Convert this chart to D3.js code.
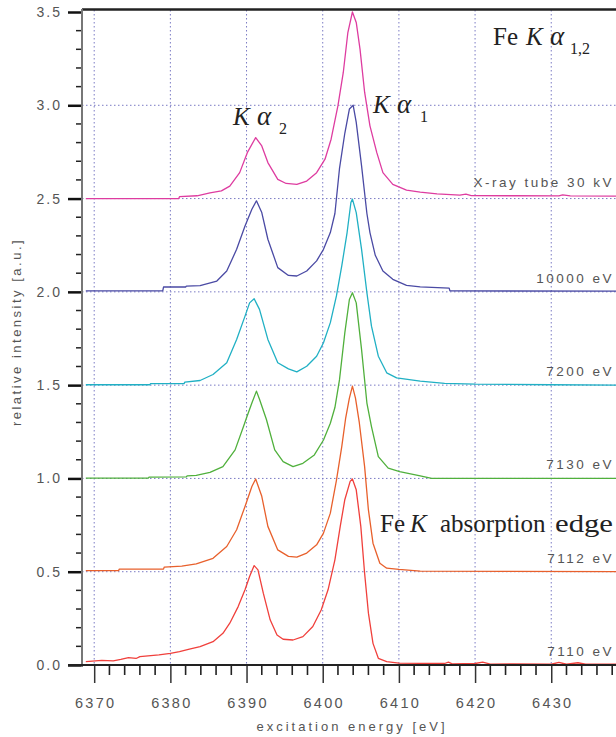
<!DOCTYPE html>
<html><head><meta charset="utf-8">
<script src="https://cdn.jsdelivr.net/npm/d3@7"></script>
<style>
body{margin:0;background:#fff;}
svg{display:block;}
.tick-label{font-family:"Liberation Sans",Arial,sans-serif;fill:#555;}
.serif{font-family:"Liberation Serif","Times New Roman",serif;fill:#222;}
</style></head>
<body>
<svg id="chart" width="616" height="737"></svg>
<script>
// ---------- data ----------
const xTickValues = [6370, 6380, 6390, 6400, 6410, 6420, 6430];
const yTickValues = [0.0, 0.5, 1.0, 1.5, 2.0, 2.5, 3.0, 3.5];
const seriesLabels = ["7110 eV", "7112 eV", "7130 eV", "7200 eV", "10000 eV", "X-ray tube 30 kV"];
const seriesOffsets = [0.0, 0.5, 1.0, 1.5, 2.0, 2.5];

const spec7110 = [[6368.9,0.018],[6371,0.025],[6372.5,0.022],[6373.5,0.03],[6374.5,0.04],[6375.5,0.035],[6376,0.045],[6378.5,0.054],[6380,0.062],[6381.2,0.072],[6382.5,0.085],[6383.9,0.098],[6385.6,0.125],[6386.9,0.17],[6387.8,0.224],[6388.9,0.313],[6389.8,0.403],[6390.4,0.474],[6391.0,0.533],[6391.5,0.51],[6392.2,0.385],[6393.1,0.242],[6394.0,0.161],[6394.8,0.138],[6396.1,0.134],[6397.4,0.152],[6398.7,0.206],[6399.8,0.295],[6400.7,0.403],[6401.6,0.564],[6402.3,0.743],[6402.9,0.886],[6403.6,0.984],[6403.9,0.997],[6404.4,0.939],[6405.0,0.743],[6405.5,0.492],[6406.0,0.278],[6406.6,0.116],[6407.3,0.036],[6408.4,0.018],[6410,0.01],[6412.8,0.009],[6416,0.008],[6416.5,0.015],[6417,0.006],[6420,0.008],[6421,0.015],[6422,0.005],[6425,0.006],[6430,0.004],[6431,0.014],[6432,0.004],[6433.5,0.012],[6434.5,0.004],[6438.5,0.004]];
const spec7112 = [[6368.9,0.506],[6373.2,0.506],[6373.3,0.514],[6379.1,0.514],[6379.2,0.525],[6381.5,0.53],[6383.4,0.542],[6385.6,0.572],[6387.4,0.635],[6388.7,0.725],[6389.8,0.85],[6390.7,0.957],[6391.2,0.997],[6392.0,0.904],[6392.8,0.743],[6394.1,0.617],[6395.5,0.582],[6396.6,0.578],[6397.9,0.6],[6399.2,0.644],[6400.1,0.707],[6401.0,0.814],[6401.8,0.99],[6402.5,1.17],[6403.0,1.32],[6403.5,1.43],[6403.9,1.495],[6404.3,1.43],[6404.8,1.3],[6405.5,1.063],[6406.0,0.831],[6406.6,0.653],[6407.5,0.545],[6408.4,0.519],[6410,0.512],[6412.8,0.503],[6438.5,0.5]];
const spec7130 = [[6368.9,1.002],[6377.1,1.002],[6377.2,1.007],[6382.1,1.008],[6382.2,1.014],[6383.4,1.016],[6385.2,1.032],[6386.9,1.063],[6388.5,1.153],[6389.6,1.278],[6390.0,1.325],[6390.7,1.404],[6391.3,1.468],[6391.7,1.424],[6392.6,1.317],[6393.7,1.153],[6394.8,1.09],[6396.1,1.063],[6397.4,1.081],[6398.9,1.126],[6400.1,1.206],[6401.0,1.296],[6401.6,1.38],[6402.2,1.528],[6402.9,1.78],[6403.5,1.959],[6403.9,1.995],[6404.4,1.941],[6405.1,1.69],[6405.8,1.404],[6406.4,1.278],[6407.3,1.117],[6408.6,1.055],[6410.1,1.037],[6412.8,1.014],[6414.3,1.0],[6438.5,1.0]];
const spec7200 = [[6368.9,1.502],[6377.3,1.502],[6377.4,1.508],[6381.8,1.508],[6381.9,1.516],[6383.9,1.525],[6385.6,1.557],[6387.4,1.62],[6388.7,1.745],[6389.8,1.87],[6390.4,1.941],[6391.0,1.963],[6391.7,1.906],[6392.8,1.745],[6394.1,1.62],[6395.5,1.587],[6396.6,1.571],[6397.9,1.601],[6399.2,1.655],[6400.1,1.727],[6401.0,1.835],[6401.8,1.978],[6402.5,2.139],[6403.2,2.318],[6403.7,2.479],[6403.9,2.497],[6404.4,2.425],[6405.1,2.228],[6405.8,1.995],[6406.4,1.816],[6407.3,1.655],[6408.4,1.566],[6409.7,1.539],[6412.8,1.521],[6416,1.51],[6420,1.505],[6430,1.502],[6438.5,1.5]];
const spec10000 = [[6368.9,2.005],[6379,2.005],[6379.1,2.026],[6382,2.026],[6382.1,2.031],[6383.9,2.033],[6386.1,2.058],[6387.4,2.112],[6388.7,2.228],[6389.8,2.353],[6390.7,2.443],[6391.3,2.488],[6392.0,2.425],[6392.8,2.282],[6394.1,2.13],[6395.5,2.088],[6396.6,2.085],[6397.9,2.112],[6399.2,2.166],[6400.1,2.228],[6401.0,2.318],[6401.6,2.42],[6402.2,2.66],[6402.9,2.85],[6403.5,2.98],[6404.0,3.0],[6404.4,2.908],[6405.1,2.675],[6405.8,2.42],[6406.2,2.318],[6406.9,2.196],[6407.9,2.112],[6409.2,2.067],[6411,2.035],[6412.8,2.027],[6416.6,2.02],[6416.7,2.005],[6438.5,2.004]];
const specTube = [[6368.9,2.5],[6381.1,2.5],[6381.2,2.51],[6383.5,2.515],[6385.2,2.53],[6386.7,2.541],[6387.8,2.567],[6389.1,2.639],[6390.1,2.746],[6391.2,2.827],[6392.0,2.782],[6392.8,2.693],[6394.1,2.603],[6395.2,2.581],[6396.6,2.576],[6397.9,2.594],[6399.2,2.639],[6400.3,2.711],[6401.1,2.818],[6402.0,2.998],[6402.7,3.176],[6403.3,3.39],[6403.9,3.5],[6404.4,3.444],[6404.9,3.3],[6405.5,3.07],[6406.2,2.89],[6407.1,2.746],[6407.9,2.639],[6409.2,2.576],[6411.0,2.545],[6412.8,2.535],[6415,2.525],[6418,2.518],[6418.8,2.524],[6419.5,2.516],[6425,2.515],[6431,2.514],[6431.5,2.52],[6432.5,2.514],[6438.5,2.513]];

const seriesData = [spec7110, spec7112, spec7130, spec7200, spec10000, specTube];
const seriesColors = ["#f0403c", "#e8602c", "#50b03c", "#20b0c4", "#4a4aa4", "#de3ca0"];

// ---------- layout ----------
const svg = d3.select("#chart");
const W = 616, H = 737;
const mLeft = 82, mRight = 616, mTop = 12, mBottom = 665;
const x = d3.scaleLinear().domain([6368.4, 6438.5]).range([mLeft, mRight]);
const y = d3.scaleLinear().domain([0, 3.5]).range([mBottom, mTop]);

svg.append("rect").attr("width", W).attr("height", H).attr("fill", "#fff");

// grid
const grid = svg.append("g").attr("stroke", "#7a7ac4").attr("stroke-width", 1).attr("stroke-dasharray", "1.5,2.5");
grid.selectAll("line.v").data(xTickValues).join("line").attr("class", "v")
  .attr("x1", d => x(d)).attr("x2", d => x(d)).attr("y1", 10).attr("y2", mBottom);
grid.selectAll("line.h").data(yTickValues.filter(v => v > 0 && v < 3.5)).join("line").attr("class", "h")
  .attr("x1", mLeft).attr("x2", mRight).attr("y1", d => y(d)).attr("y2", d => y(d));

// curves
const line = d3.line().x(d => x(d[0])).y(d => y(d[1]));
svg.append("g").selectAll("path").data(seriesData).join("path")
  .attr("d", d => line(d)).attr("fill", "none")
  .attr("stroke", (d, i) => seriesColors[i]).attr("stroke-width", 1.3)
  .attr("stroke-linejoin", "round");

// top border
svg.append("line").attr("x1", mLeft).attr("x2", mRight).attr("y1", 9.5).attr("y2", 9.5)
  .attr("stroke", "#222").attr("stroke-width", 2.5);

// Y axis
const yAxis = d3.axisLeft(y).tickValues(yTickValues).tickFormat(d3.format(".1f")).tickSize(14).tickPadding(8);
const gy = svg.append("g").attr("transform", `translate(${mLeft},0)`).call(yAxis);
gy.select(".domain").remove();
gy.selectAll(".tick line").attr("stroke", "#111").attr("stroke-width", 2.5);
gy.selectAll(".tick text").attr("class", "tick-label").style("font-size", "14px").style("letter-spacing", "2px").attr("fill", "#555").attr("dx", "2");
const yMinor = d3.range(1, 35).map(i => i / 10).filter(v => Math.abs(v * 2 - Math.round(v * 2)) > 1e-6);
svg.append("g").selectAll("line").data(yMinor).join("line")
  .attr("x1", mLeft - 6).attr("x2", mLeft).attr("y1", d => y(d)).attr("y2", d => y(d))
  .attr("stroke", "#222").attr("stroke-width", 1.5);
svg.append("line").attr("x1", mLeft).attr("x2", mLeft).attr("y1", 9).attr("y2", mBottom + 2)
  .attr("stroke", "#777").attr("stroke-width", 2);

// X axis
const xAxis = d3.axisBottom(x).tickValues(xTickValues).tickFormat(d3.format("d")).tickSize(18).tickPadding(15);
const gx = svg.append("g").attr("transform", `translate(0,${mBottom})`).call(xAxis);
gx.select(".domain").remove();
gx.selectAll(".tick line").attr("stroke", "#333").attr("stroke-width", 1.5);
gx.selectAll(".tick text").attr("class", "tick-label").style("font-size", "14.5px").style("letter-spacing", "2.3px").attr("fill", "#555").attr("dx", "1");
const xMinor = d3.range(6370, 6440, 2).filter(v => v % 10 !== 0);
svg.append("g").selectAll("line").data(xMinor).join("line")
  .attr("x1", d => x(d)).attr("x2", d => x(d)).attr("y1", mBottom).attr("y2", mBottom + 10)
  .attr("stroke", "#222").attr("stroke-width", 1.6);
svg.append("line").attr("x1", 68).attr("x2", mRight).attr("y1", mBottom).attr("y2", mBottom)
  .attr("stroke", "#222").attr("stroke-width", 2);

// axis titles
svg.append("text").attr("class", "tick-label").attr("x", 352).attr("y", 731)
  .attr("text-anchor", "middle").style("font-size", "13px").style("letter-spacing", "3px")
  .text("excitation energy [eV]");
svg.append("text").attr("class", "tick-label")
  .attr("transform", "translate(21,332) rotate(-90)")
  .attr("text-anchor", "middle").style("font-size", "13px").style("letter-spacing", "2.5px")
  .text("relative intensity [a.u.]");

// series labels
svg.append("g").selectAll("text").data(seriesLabels).join("text")
  .attr("class", "tick-label")
  .attr("x", 614).attr("y", (d, i) => y(seriesOffsets[i]) - (i === 5 ? 12 : 9))
  .attr("text-anchor", "end").style("font-size", "13.5px").style("letter-spacing", "2.5px").attr("fill", "#333")
  .text(d => d);

// annotations
function kalpha(xK, base, sub, subX) {
  const t = svg.append("text").attr("class", "serif").style("font-size", "25px");
  t.append("tspan").attr("x", xK).attr("y", base).style("font-style", "italic").text("K");
  t.append("tspan").attr("x", xK + 24).attr("y", base).style("font-style", "italic").style("font-size", "27px").text("α");
  t.append("tspan").attr("x", subX).attr("y", base + 9).style("font-size", "16px").text(sub);
}
svg.append("text").attr("class", "serif").attr("x", 493).attr("y", 45).style("font-size", "25px").text("Fe");
kalpha(526, 45, "1,2", 570);
kalpha(373, 113, "1", 420);
kalpha(233, 125, "2", 279);

const edge = svg.append("text").attr("class", "serif").style("font-size", "25px");
edge.append("tspan").attr("x", 380).attr("y", 532).text("Fe");
edge.append("tspan").attr("x", 410).attr("y", 532).style("font-style", "italic").text("K");
edge.append("tspan").attr("x", 440).attr("y", 532).text("absorption");
edge.append("tspan").attr("x", 555).attr("y", 532).attr("textLength", 58).attr("lengthAdjust", "spacingAndGlyphs").text("edge");
</script>
</body></html>
